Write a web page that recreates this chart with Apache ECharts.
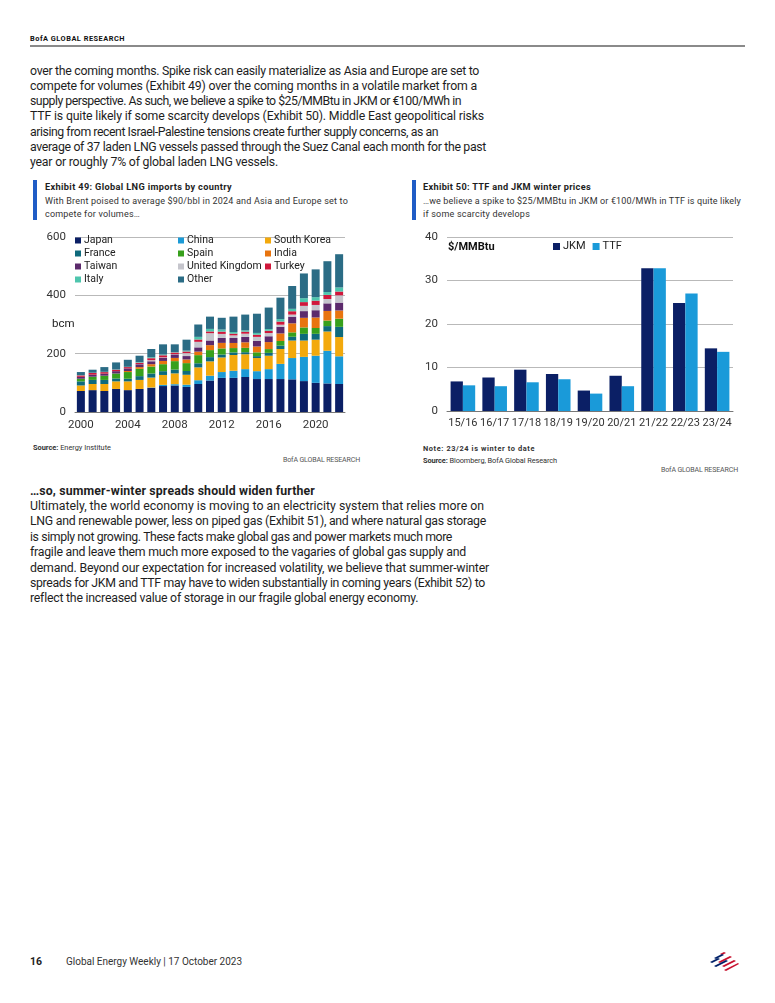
<!DOCTYPE html>
<html>
<head>
<meta charset="utf-8">
<script src="https://cdn.jsdelivr.net/npm/echarts@6/dist/echarts.min.js"></script>
<style>
html,body{margin:0;padding:0;background:#fff;}
#page{position:relative;width:775px;height:1003px;overflow:hidden;font-family:'Roboto','Liberation Sans',sans-serif;color:#1e1e1e;}
.abs{position:absolute;}
.ln{white-space:nowrap;display:block;}
.ln span{display:inline-block;white-space:nowrap;}
.para{font-size:12.3px;line-height:15.3px;}
.exh-t{font-weight:bold;font-size:9.2px;}
.exh-s{font-size:9px;line-height:12.6px;color:#333;}
.src{font-size:7.4px;color:#333;}
.bofa{font-size:7px;color:#555;}
.bar{position:absolute;width:4px;background:#1f5cc6;}
</style>
</head>
<body>
<div id="page">
  <div class="abs ln" style="left:30px;top:34px;font-size:7.4px;font-weight:bold;color:#111;"><span data-w="95">BofA GLOBAL RESEARCH</span></div>
  <div class="abs" style="left:30px;top:45px;width:715px;height:1.5px;background:#8a8a8a;"></div>

  <div class="abs para" style="left:30px;top:63.5px;">
    <div class="ln"><span data-w="449">over the coming months. Spike risk can easily materialize as Asia and Europe are set to</span></div>
    <div class="ln"><span data-w="447">compete for volumes (Exhibit 49) over the coming months in a volatile market from a</span></div>
    <div class="ln"><span data-w="431">supply perspective. As such, we believe a spike to $25/MMBtu in JKM or €100/MWh in</span></div>
    <div class="ln"><span data-w="454">TTF is quite likely if some scarcity develops (Exhibit 50). Middle East geopolitical risks</span></div>
    <div class="ln"><span data-w="408">arising from recent Israel-Palestine tensions create further supply concerns, as an</span></div>
    <div class="ln"><span data-w="456">average of 37 laden LNG vessels passed through the Suez Canal each month for the past</span></div>
    <div class="ln"><span data-w="248">year or roughly 7% of global laden LNG vessels.</span></div>
  </div>

  <!-- Exhibit 49 header -->
  <div class="bar" style="left:33px;top:180px;height:40px;"></div>
  <div class="abs ln exh-t" style="left:45px;top:181px;"><span data-w="187">Exhibit 49: Global LNG imports by country</span></div>
  <div class="abs exh-s" style="left:45px;top:195px;">
    <div class="ln"><span data-w="303">With Brent poised to average $90/bbl in 2024 and Asia and Europe set to</span></div>
    <div class="ln"><span data-w="95">compete for volumes…</span></div>
  </div>

  <!-- Exhibit 50 header -->
  <div class="bar" style="left:412px;top:180px;height:40px;"></div>
  <div class="abs ln exh-t" style="left:423px;top:181px;"><span data-w="168">Exhibit 50: TTF and JKM winter prices</span></div>
  <div class="abs exh-s" style="left:423px;top:195px;">
    <div class="ln"><span data-w="318">…we believe a spike to $25/MMBtu in JKM or €100/MWh in TTF is quite likely</span></div>
    <div class="ln"><span data-w="107">if some scarcity develops</span></div>
  </div>

  <div id="c1" class="abs" style="left:40px;top:225px;width:320px;height:210px;"></div>
  <div id="c2" class="abs" style="left:420px;top:225px;width:330px;height:210px;"></div>

  <div class="abs ln src" style="left:33px;top:443px;"><span data-w="78"><b>Source:</b> Energy Institute</span></div>
  <div class="abs ln bofa" style="left:283px;top:456px;"><span data-w="77">BofA GLOBAL RESEARCH</span></div>

  <div class="abs ln src" style="left:423px;top:444px;font-weight:bold;"><span data-w="112">Note: 23/24 is winter to date</span></div>
  <div class="abs ln src" style="left:423px;top:456px;"><span data-w="134"><b>Source:</b> Bloomberg, BofA Global Research</span></div>
  <div class="abs ln bofa" style="left:661px;top:466px;"><span data-w="77">BofA GLOBAL RESEARCH</span></div>

  <div class="abs para" style="left:30px;top:483.5px;line-height:15.4px;">
    <div class="ln" style="font-weight:bold;"><span data-w="285">…so, summer-winter spreads should widen further</span></div>
    <div class="ln"><span data-w="454">Ultimately, the world economy is moving to an electricity system that relies more on</span></div>
    <div class="ln"><span data-w="456">LNG and renewable power, less on piped gas (Exhibit 51), and where natural gas storage</span></div>
    <div class="ln"><span data-w="422">is simply not growing. These facts make global gas and power markets much more</span></div>
    <div class="ln"><span data-w="436">fragile and leave them much more exposed to the vagaries of global gas supply and</span></div>
    <div class="ln"><span data-w="459">demand. Beyond our expectation for increased volatility, we believe that summer-winter</span></div>
    <div class="ln"><span data-w="455">spreads for JKM and TTF may have to widen substantially in coming years (Exhibit 52) to</span></div>
    <div class="ln"><span data-w="388">reflect the increased value of storage in our fragile global energy economy.</span></div>
  </div>

  <div class="abs ln" style="left:30px;top:955px;font-size:10.5px;font-weight:bold;"><span data-w="12">16</span></div>
  <div class="abs ln" style="left:66px;top:955.5px;font-size:10px;color:#333;"><span data-w="176">Global Energy Weekly | 17 October 2023</span></div>
  <svg class="abs" style="left:706px;top:951px;" width="34" height="22" viewBox="0 0 34 22">
    <g>
      <path d="M14 3 L18 1 L20 2 L16 4 Z" fill="#c8102e"/>
      <path d="M8 7 L16 3 L18 4 L10 8 Z" fill="#012169"/>
      <path d="M4 11 L12 7 L14 8 L6 12 Z" fill="#012169"/>
      <path d="M12 11 L24 5 L26 6 L14 12 Z" fill="#c8102e"/>
      <path d="M8 15 L20 9 L22 10 L10 16 Z" fill="#012169"/>
      <path d="M16 15 L28 9 L30 10 L18 16 Z" fill="#c8102e"/>
      <path d="M18 19 L32 12 L33 13 L20 20 Z" fill="#c8102e"/>
    </g>
  </svg>
</div>

<script>
// ---------- Exhibit 49 data (bcm) ----------
const years = ['2000','2001','2002','2003','2004','2005','2006','2007','2008','2009','2010','2011','2012','2013','2014','2015','2016','2017','2018','2019','2020','2021','2022'];
const japan  = [72,75,72,79,75,79,83,89,91,86,96,108,117,117,120,113,113,113,112,106,100,98,96];
const china  = [0,0,0,0,0,0,1,4,4.4,7.6,13,16.6,20,24.5,27,27,34,52,73,83,93,112,95];
const korea  = [19,21,24,26,30,31,34,34,37,34,44,49,50,54,51,45,46,51,60,56,55,66,66];
const france = [14,14,14,10,9,13,14,13,13,13,14,14.6,10,8.7,7,6.6,9.7,11.4,13,22.9,20,18.5,35];
const spain  = [9,11,14.5,17,23,25,24,24,29,27,28,24,21,15,15,13,13,16,15,22,20,19,28];
const india  = [0,0,0,0,3.5,6,8,11,11,12.6,12,17,19,17.5,19,20,24,26,31,33,36,33,28];
const taiwan = [6.5,7,7,8,9,9.6,10,11,12,11.6,14.6,16,17,17,18.5,19,20,23,23,23,25,26,27];
const uk     = [0,0,0,0,0,0.5,3.5,1.5,1,10,19,25,13.7,9,11,14,11,7,7,18,18,15,25];
const turkey = [5,5.7,5.3,5,4.5,5,7,7,5.5,5.7,8,6,8,6,7,7.5,8,10.7,11.5,12.9,14.8,14,13];
const italy  = [1,1,1,1,1,2,3,2.5,1.5,3,9,8.7,7,5.5,4.5,6,5.8,8.5,8.2,13.5,12,9.8,14];
const other  = [10.5,10.3,16.2,24,24,21.9,28.5,35,26.6,37.5,42.4,42.1,40.3,52.8,54,65.9,73.5,73.4,78.3,84.7,95.2,105.7,114];

// ---------- Exhibit 50 data ($/MMBtu) ----------
const winters = ['15/16','16/17','17/18','18/19','19/20','20/21','21/22','22/23','23/24'];
const jkm = [6.8,7.7,9.5,8.5,4.7,8.1,32.8,24.8,14.4];
const ttf = [5.9,5.7,6.6,7.3,4.0,5.7,32.8,27.0,13.6];

const FONT = "'Roboto','Liberation Sans',sans-serif";

// fit text lines to reference widths
document.querySelectorAll('[data-w]').forEach(el => {
  const t = +el.dataset.w;
  const w = el.getBoundingClientRect().width;
  const n = el.textContent.length;
  if (n > 1) el.style.letterSpacing = ((t - w) / n) + 'px';
});

const seriesDefs = [
  ['Japan', japan, '#0b1f65'],
  ['China', china, '#1b9ad6'],
  ['South Korea', korea, '#f3a90c'],
  ['France', france, '#0e6a7c'],
  ['Spain', spain, '#37a01c'],
  ['India', india, '#e8740f'],
  ['Taiwan', taiwan, '#5c2a6c'],
  ['United Kingdom', uk, '#c5c5cc'],
  ['Turkey', turkey, '#d0173b'],
  ['Italy', italy, '#4ec5ad'],
  ['Other', other, '#2b6c85']
];

function legendCol(names, left) {
  return {
    data: names, left: left, top: 10, orient: 'vertical',
    itemWidth: 6, itemHeight: 6, itemGap: 2,
    icon: 'rect',
    textStyle: {fontFamily: FONT, fontSize: 10.5, color: '#222', lineHeight: 11, padding: [0,0,0,-2]},
    padding: 0, selectedMode: false
  };
}

const c1 = echarts.init(document.getElementById('c1'), null, {renderer: 'canvas'});
c1.setOption({
  animation: false,
  textStyle: {fontFamily: FONT},
  grid: {left: 35, right: 15, top: 12, bottom: 23},
  legend: [
    legendCol(['Japan','France','Taiwan','Italy'], 35),
    legendCol(['China','Spain','United Kingdom','Other'], 138),
    legendCol(['South Korea','India','Turkey'], 225)
  ],
  xAxis: {
    type: 'category', data: years,
    axisTick: {show: false},
    axisLine: {lineStyle: {color: '#777', width: 1}},
    axisLabel: {interval: 3, color: '#333', fontSize: 11.5, margin: 7, fontFamily: FONT}
  },
  yAxis: {
    type: 'value', min: 0, max: 600, interval: 200,
    axisLabel: {color: '#333', fontSize: 11.5, margin: 9, fontFamily: FONT},
    splitLine: {lineStyle: {color: '#b9b9b9', width: 1}},
    axisLine: {show: false}, axisTick: {show: false}
  },
  graphic: [{type: 'text', left: 12, top: 93, style: {text: 'bcm', fontFamily: FONT, fontSize: 11.5, fill: '#222'}}],
  series: seriesDefs.map(d => ({
    name: d[0], type: 'bar', stack: 'all', data: d[1], barWidth: 8,
    itemStyle: {color: d[2]}
  }))
});

const c2 = echarts.init(document.getElementById('c2'), null, {renderer: 'canvas'});
c2.setOption({
  animation: false,
  textStyle: {fontFamily: FONT},
  grid: {left: 27, right: 17, top: 12, bottom: 24},
  legend: {
    data: ['JKM','TTF'], left: 133, top: 16, itemWidth: 7, itemHeight: 7, itemGap: 7,
    icon: 'rect', padding: 0, selectedMode: false,
    textStyle: {fontFamily: FONT, fontSize: 11, color: '#222', padding: [0,0,0,-2]}
  },
  xAxis: {
    type: 'category', data: winters,
    axisTick: {show: false},
    axisLine: {lineStyle: {color: '#777', width: 1}},
    axisLabel: {interval: 0, color: '#333', fontSize: 11, margin: 7, fontFamily: FONT}
  },
  yAxis: {
    type: 'value', min: 0, max: 40, interval: 10,
    axisLabel: {color: '#333', fontSize: 11.5, margin: 9, fontFamily: FONT},
    splitLine: {lineStyle: {color: '#b9b9b9', width: 1}},
    axisLine: {show: false}, axisTick: {show: false}
  },
  graphic: [{type: 'text', left: 28, top: 17, style: {text: '$/MMBtu', fontFamily: FONT, fontSize: 11, fontWeight: 'bold', fill: '#111'}}],
  series: [
    {name: 'JKM', type: 'bar', data: jkm, barWidth: 12.3, barGap: '0%', itemStyle: {color: '#0b1f65'}},
    {name: 'TTF', type: 'bar', data: ttf, barWidth: 12.3, barGap: '0%', itemStyle: {color: '#1a9ad9'}}
  ]
});
</script>
</body>
</html>
